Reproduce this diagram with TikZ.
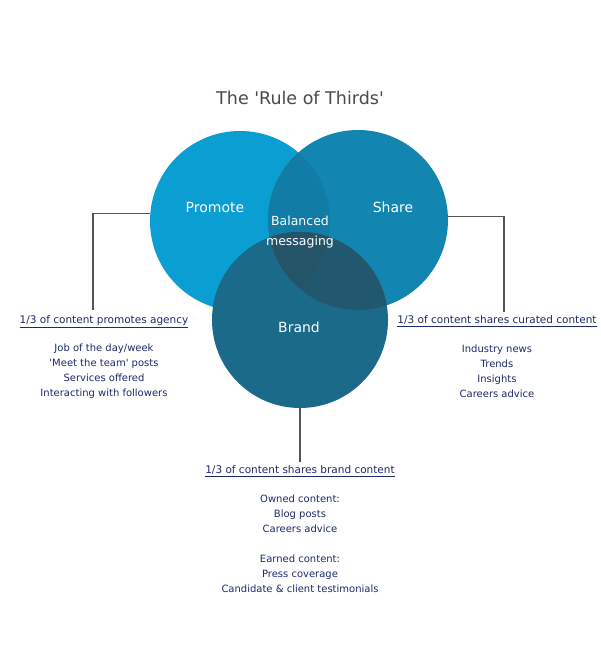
\documentclass[tikz,border=0pt]{standalone}
\usepackage{fontspec}
\setmainfont{DejaVu Sans}
\definecolor{cP}{HTML}{0A9ED2}
\definecolor{cS}{HTML}{1285B0}
\definecolor{cB}{HTML}{1B6A8A}
\definecolor{cPS}{HTML}{117DA7}
\definecolor{cSB}{HTML}{22586F}
\definecolor{cPSB}{HTML}{245468}
\definecolor{navy}{HTML}{1D2B6B}
\definecolor{titlegray}{HTML}{4A4A4A}
\definecolor{linegray}{HTML}{555555}
\tikzset{
  circ/.style={circle, minimum size=#1, inner sep=0pt, draw=none},
  clabel/.style={text=white, font=\fontsize{14}{16}\selectfont},
  head/.style={text=navy, font=\fontsize{10.5}{12}\selectfont, inner sep=3pt},
  item/.style={text=navy, font=\fontsize{10}{15}\selectfont, align=center, inner sep=0pt},
  conn/.style={draw=linegray, line width=1.1pt}
}
\begin{document}
\begin{tikzpicture}[x=1pt,y=-1pt]
\useasboundingbox (0,0) rectangle (600,645);
\fill[white] (0,0) rectangle (600,645);
% circles
\fill[cP] (240,221) circle (90);
\fill[cS] (358,220) circle (90);
\fill[cB] (300,320) circle (88);
\begin{scope}
  \clip (240,221) circle (90);
  \fill[cPS] (358,220) circle (90);
\end{scope}
\begin{scope}
  \clip (300,320) circle (88);
  \fill[cB] (240,221) circle (90);
  \fill[cSB] (358,220) circle (90);
  \clip (240,221) circle (90);
  \fill[cPSB] (358,220) circle (90);
\end{scope}
% named circle nodes (invisible)
\node[circ=180pt] (P) at (240,221) {};
\node[circ=180pt] (S) at (358,220) {};
\node[circ=176pt] (B) at (300,320) {};
% title
\node[text=titlegray, font=\fontsize{17.5}{20}\selectfont] (title) at (300,98) {The \textquotesingle Rule of Thirds\textquotesingle};
% circle labels
\node[clabel] (lp) at (215,207) {Promote};
\node[clabel] (ls) at (393,207) {Share};
\node[clabel, align=center, font=\fontsize{12.5}{20}\selectfont] (lbal) at (300,232) {Balanced\\messaging};
\node[clabel] (lb) at (299,327) {Brand};
% headings
\node[head] (hl) at (104,322) {\underline{1/3 of content promotes agency}};
\node[head] (hr) at (497,321) {\underline{1/3 of content shares curated content}};
\node[head] (hb) at (300,471) {\underline{1/3 of content shares brand content}};
% items
\node[item, anchor=north] (il) at (104,344) {Job of the day/week\\\textquotesingle Meet the team\textquotesingle\ posts\\Services offered\\Interacting with followers};
\node[item, anchor=north] (ir) at (497,345) {Industry news\\Trends\\Insights\\Careers advice};
\node[item, anchor=north] (ib) at (300,495) {Owned content:\\Blog posts\\Careers advice\\[15pt]Earned content:\\Press coverage\\Candidate \& client testimonials};
% connector corners
\coordinate (cl) at (93,310);
\coordinate (cr) at (504,312);
% connectors
\draw[conn] (P.175.5) -| (cl);
\draw[conn] (S.2.7) -| (cr);
\draw[conn] (B.south) -- (hb.north);
\end{tikzpicture}
\end{document}
